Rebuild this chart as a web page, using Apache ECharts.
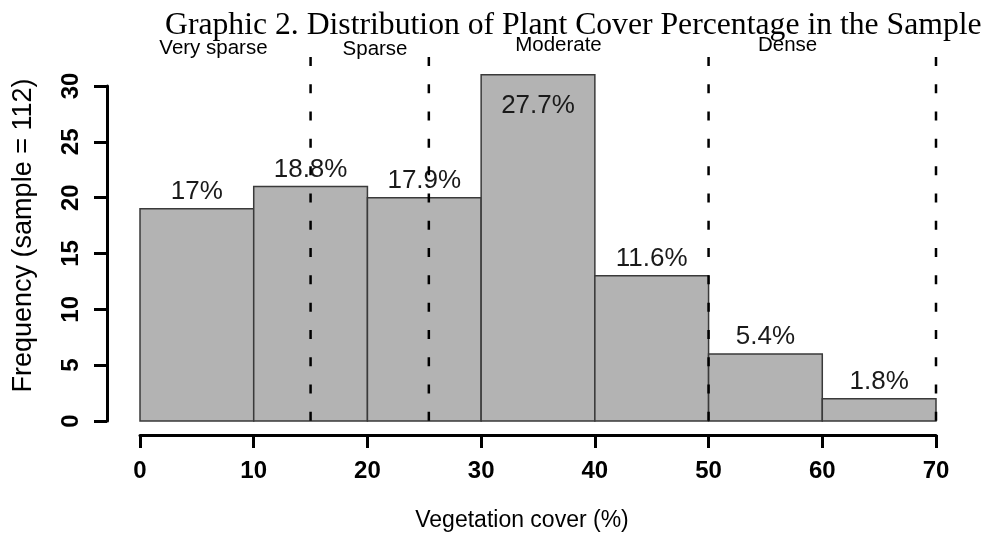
<!DOCTYPE html>
<html>
<head>
<meta charset="utf-8">
<script src="https://cdn.jsdelivr.net/npm/echarts@6/dist/echarts.min.js"></script>
<style>
html,body{margin:0;padding:0;background:#fff;}
#chart{width:992px;height:533px;}
</style>
</head>
<body>
<div id="chart"></div>
<script>
// ---- data ----
const binEdges = [0, 10, 20, 30, 40, 50, 60, 70];
const counts = [19, 21, 20, 31, 13, 6, 2];
const pctLabels = ['17%', '18.8%', '17.9%', '27.7%', '11.6%', '5.4%', '1.8%'];
const cutoffs = [15, 25.4, 50, 70];
const zoneNames = ['Very sparse', 'Sparse', 'Moderate', 'Dense'];
const zoneX = [6.46, 20.67, 36.8, 56.95];
const zoneY = [33.4, 33.25, 33.6, 33.6];
const xMin = 0, xMax = 70, xStep = 10;
const yMin = 0, yMax = 30, yStep = 5;

const titleText = 'Graphic 2. Distribution of Plant Cover Percentage in the Sample';
const xName = 'Vegetation cover (%)';
const yName = 'Frequency (sample = 112)';

// ---- build ----
const barData = counts.map((c, i) => [binEdges[i], binEdges[i + 1], c]);
const cutData = cutoffs.map(v => [v]);
const zoneData = zoneNames.map((n, i) => [zoneX[i], zoneY[i]]);
const SANS = '"Liberation Sans", Arial, Helvetica, sans-serif';

const chart = echarts.init(document.getElementById('chart'), null, {renderer: 'canvas'});
chart.setOption({
  animation: false,
  backgroundColor: '#ffffff',
  title: {
    text: titleText,
    left: 160, top: 5,
    textStyle: {fontFamily: '"Liberation Serif", "Times New Roman", serif', fontWeight: 'normal', fontSize: 31.7, color: '#000'}
  },
  grid: {left: 140, right: 56, top: 86, bottom: 112, containLabel: false, outerBoundsMode: 'none'},
  xAxis: {
    type: 'value', min: xMin, max: xMax, interval: xStep,
    offset: 14,
    name: xName, nameLocation: 'middle', nameGap: 74,
    nameTextStyle: {fontFamily: SANS, fontSize: 23, color: '#000', padding: [0, 32, 0, 0]},
    axisLine: {show: true, onZero: false, lineStyle: {color: '#000', width: 3}},
    axisTick: {show: true, inside: false, length: 13, lineStyle: {color: '#000', width: 3}},
    axisLabel: {fontFamily: SANS, fontSize: 24, fontWeight: 'bold', color: '#000', margin: 24},
    splitLine: {show: false}
  },
  yAxis: {
    type: 'value', min: yMin, max: yMax, interval: yStep,
    offset: 33,
    name: yName, nameLocation: 'middle', nameGap: 70, nameRotate: 90,
    nameTextStyle: {fontFamily: SANS, fontSize: 27, color: '#000', padding: [0, 0, 0, 36]},
    axisLine: {show: true, onZero: false, lineStyle: {color: '#000', width: 3}},
    axisTick: {show: true, inside: false, length: 13, lineStyle: {color: '#000', width: 3}},
    axisLabel: {fontFamily: SANS, fontSize: 24, fontWeight: 'bold', color: '#000', margin: 24, rotate: 90},
    splitLine: {show: false}
  },
  series: [
    {
      type: 'custom',
      name: 'Frequency',
      clip: false,
      encode: {x: [0, 1], y: 2},
      data: barData,
      renderItem: function (params, api) {
        const x0 = api.value(0), x1 = api.value(1), c = api.value(2);
        const pTop = api.coord([x0, c]);
        const pBot = api.coord([x1, 0]);
        const inside = c > yMax;
        return {
          type: 'rect',
          shape: {x: pTop[0], y: pTop[1], width: pBot[0] - pTop[0], height: pBot[1] - pTop[1]},
          style: {fill: '#b3b3b3', stroke: '#3a3a3a', lineWidth: 1.5},
          textContent: {
            style: {text: pctLabels[params.dataIndex], fontFamily: SANS, fontSize: 26, fill: '#1a1a1a'}
          },
          textConfig: {position: inside ? 'insideTop' : 'top', distance: inside ? 19 : 3}
        };
      },
      z: 2
    },
    {
      type: 'custom',
      name: 'Cutoffs',
      clip: false,
      encode: {x: 0},
      data: cutData,
      renderItem: function (params, api) {
        const x = api.value(0);
        const a = api.coord([x, 32.6]);
        const b = api.coord([x, -1.25]);
        return {
          type: 'line',
          shape: {x1: a[0], y1: a[1], x2: b[0], y2: b[1]},
          style: {stroke: '#000', lineWidth: 2.5, lineDash: [9, 18.3]}
        };
      },
      z: 3
    },
    {
      type: 'custom',
      name: 'Zones',
      clip: false,
      encode: {x: 0, y: 1},
      data: zoneData,
      renderItem: function (params, api) {
        const p = api.coord([api.value(0), api.value(1)]);
        return {
          type: 'text',
          x: p[0], y: p[1],
          style: {text: zoneNames[params.dataIndex], fontFamily: SANS, fontSize: 20.5, fill: '#000', align: 'center', verticalAlign: 'middle'}
        };
      },
      z: 4
    }
  ]
});
</script>
</body>
</html>
